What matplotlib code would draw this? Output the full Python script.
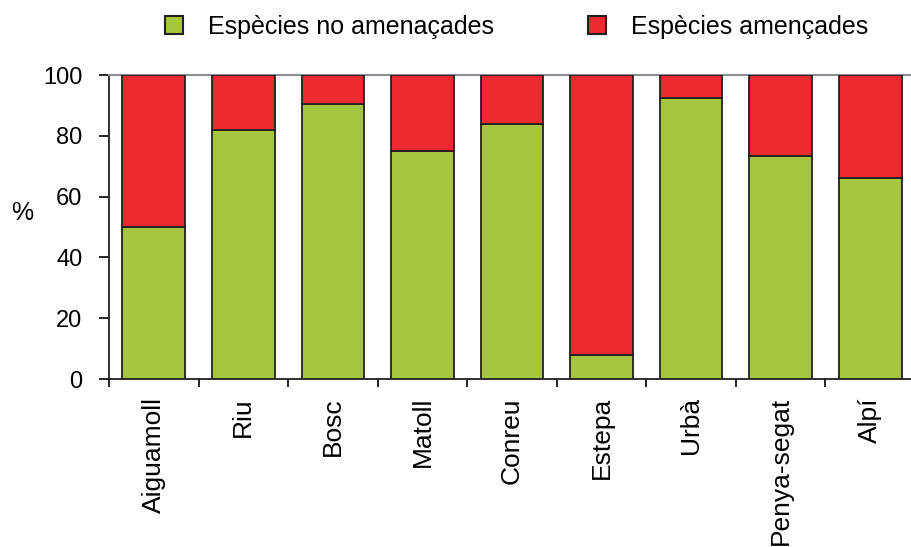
import matplotlib
matplotlib.use("Agg")
import matplotlib.pyplot as plt
from matplotlib.patches import Patch

plt.rcParams['font.family'] = ['Liberation Sans', 'DejaVu Sans']

categories = ["Aiguamoll", "Riu", "Bosc", "Matoll", "Conreu", "Estepa", "Urbà", "Penya-segat", "Alpí"]
no_amenacades = [50, 82, 90.5, 75, 84, 8, 92.5, 73.5, 66]
amenacades = [100 - v for v in no_amenacades]
yticks = [0, 20, 40, 60, 80, 100]

green = "#A5C63E"
red = "#EC2A2F"

fig = plt.figure(figsize=(9.12, 5.47), dpi=100)
W, H = 912, 547
ax = fig.add_axes([109 / W, 1 - 379 / H, (915 - 109) / W, (379 - 75) / H])

x = [i + 0.5 for i in range(len(categories))]
ax.bar(x, no_amenacades, width=0.7, color=green, edgecolor="#231F20", linewidth=1.3, zorder=3)
ax.bar(x, amenacades, bottom=no_amenacades, width=0.7, color=red, edgecolor="#231F20", linewidth=1.3, zorder=3)

ax.set_xlim(0, len(categories))
ax.set_ylim(0, 100)
ax.set_yticks(yticks)
ax.set_yticklabels([str(v) for v in yticks], fontsize=17)
ax.set_xticks(range(len(categories) + 1))
ax.set_xticklabels([])
ax.set_xticks(x, minor=True)
ax.set_xticklabels(categories, minor=True, rotation=90, fontsize=19)
ax.tick_params(axis='x', which='minor', length=0, pad=13)
ax.tick_params(axis='x', which='major', length=6, width=1.2, direction='out')
ax.tick_params(axis='y', length=7, width=1.2, direction='out', pad=12)

for s in ['left', 'bottom']:
    ax.spines[s].set_linewidth(1.3)
    ax.spines[s].set_color("#231F20")
for s in ['top', 'right']:
    ax.spines[s].set_linewidth(1.5)
    ax.spines[s].set_color("#8A9096")

fig.text(22 / W, 1 - 213 / H, "%", fontsize=18, ha='center', va='center')

handles = [Patch(facecolor=green, edgecolor="#231F20", linewidth=1.5),
           Patch(facecolor=red, edgecolor="#231F20", linewidth=1.5)]
fig.legend(handles, ["Espècies no amenaçades", "Espècies amençades"],
           loc='center', bbox_to_anchor=(517 / W, 1 - 27 / H), ncol=2, frameon=False,
           fontsize=18, handlelength=0.72, handleheight=0.72, handletextpad=1.0,
           columnspacing=3.76, borderpad=0, borderaxespad=0)

fig.savefig("out.png", dpi=100)
